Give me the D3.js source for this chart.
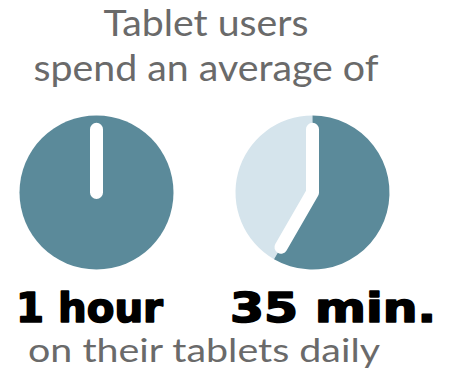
<!DOCTYPE html>
<html>
<head>
<meta charset="utf-8">
<script src="https://cdn.jsdelivr.net/npm/d3@7"></script>
<style>
  html, body { margin: 0; padding: 0; background: #fff; }
  svg { display: block; }
</style>
</head>
<body>
<svg id="chart" width="454" height="388"></svg>
<script>
// Daily tablet usage shown as clock faces
const labels = ["1 hour", "35 min."];
const minutes = [60, 35];
const titleLines = ["Tablet users", "spend an average of"];
const footer = "on their tablets daily";

const W = 454, H = 388;
const svg = d3.select("#chart");

const dark = "#5b8a9a";
const light = "#d5e4ec";
const grey = "#6a6a6a";

// clock centres spread along x
const x = d3.scalePoint().domain(labels).range([96.5, 312.5]);
const cy = 192.5;
const R = 77;

// minutes -> angle around the dial
const angle = d3.scaleLinear().domain([0, 60]).range([0, 2 * Math.PI]);

const arc = d3.arc().innerRadius(0).outerRadius(R);

const clocks = svg.selectAll("g.clock")
  .data(labels.map((l, i) => ({ label: l, min: minutes[i] })))
  .join("g")
  .attr("class", "clock")
  .attr("transform", d => `translate(${x(d.label)},${cy})`);

// remaining part of the hour
clocks.append("path")
  .attr("fill", light)
  .attr("d", d => arc({ startAngle: angle(d.min), endAngle: angle(60) }));

// elapsed time
clocks.append("path")
  .attr("fill", dark)
  .attr("d", d => arc({ startAngle: angle(0), endAngle: angle(d.min) }));

// hands: one fixed at 12, one at the minute position
const handLen = R * 0.82;
clocks.append("path")
  .attr("fill", "none")
  .attr("stroke", "#fff")
  .attr("stroke-width", 13)
  .attr("stroke-linecap", "round")
  .attr("stroke-linejoin", "round")
  .attr("d", d => {
    const a = angle(d.min % 60);
    const p = d3.path();
    p.moveTo(0, -handLen);
    p.lineTo(0, 0);
    p.lineTo(handLen * Math.sin(a), -handLen * Math.cos(a));
    return p.toString();
  });

// title
const titleWidths = [205, 345];
svg.selectAll("text.title")
  .data(titleLines)
  .join("text")
  .attr("class", "title")
  .attr("x", 206)
  .attr("y", (d, i) => 36 + i * 45)
  .attr("text-anchor", "middle")
  .attr("font-family", "Lato, sans-serif")
  .attr("font-size", 37)
  .attr("fill", grey)
  .attr("textLength", (d, i) => titleWidths[i])
  .attr("lengthAdjust", "spacingAndGlyphs")
  .text(d => d);

// values under each dial, set heavy
const valueWidths = [147, 206];
svg.selectAll("text.value")
  .data(labels)
  .join("text")
  .attr("class", "value")
  .attr("x", (d, i) => x(d) - R - (i ? 5.5 : 3.5))
  .attr("y", 322)
  .attr("font-family", "'DejaVu Sans', sans-serif")
  .attr("font-weight", "bold")
  .attr("font-size", 40)
  .attr("fill", "#000")
  .attr("stroke", "#000")
  .attr("stroke-width", 1.6)
  .attr("stroke-linejoin", "round")
  .attr("textLength", (d, i) => valueWidths[i])
  .attr("lengthAdjust", "spacingAndGlyphs")
  .text(d => d);

svg.append("text")
  .attr("x", 204)
  .attr("y", 362)
  .attr("text-anchor", "middle")
  .attr("font-family", "Lato, sans-serif")
  .attr("font-size", 33)
  .attr("fill", grey)
  .attr("textLength", 352)
  .attr("lengthAdjust", "spacingAndGlyphs")
  .text(footer);
</script>
</body>
</html>
